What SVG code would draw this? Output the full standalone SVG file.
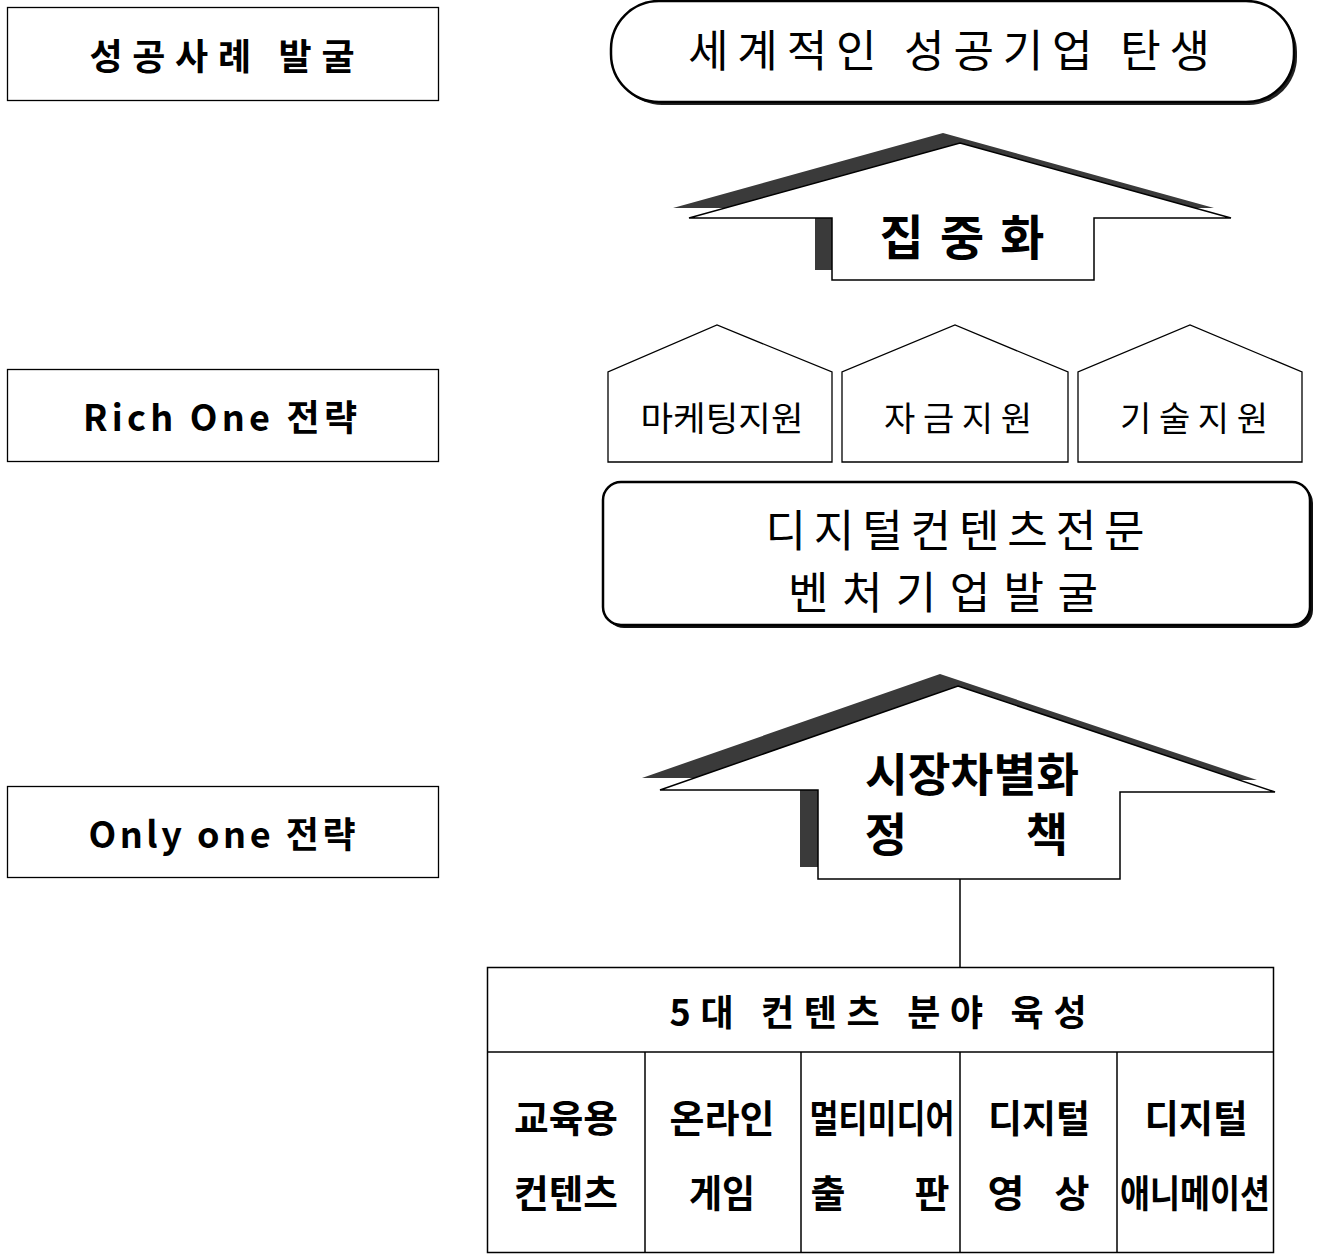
<svg xmlns="http://www.w3.org/2000/svg" width="1319" height="1257" viewBox="0 0 1319 1257">
<style>
text{font-family:"Noto Sans CJK KR","Noto Sans",sans-serif;fill:#000;dominant-baseline:central;text-anchor:middle}
.b{font-weight:bold}
.box{fill:#fff;stroke:#000;stroke-width:1.3}
.ln{stroke:#000;stroke-width:1.5;fill:none}
.shadow{fill:#3a3a3a}
</style>
<rect width="1319" height="1257" fill="#fff"/>
<g id="label-success">
<rect class="box" x="7.5" y="7.5" width="431" height="93"/>
<text class="b" x="222" y="54" font-size="36" textLength="265" lengthAdjust="spacing">성공사례 발굴</text>
</g>
<g id="label-richone">
<rect class="box" x="7.5" y="369.5" width="431" height="92"/>
<text class="b" x="220" y="415" font-size="36" textLength="274" lengthAdjust="spacing">Rich One 전략</text>
</g>
<g id="label-onlyone">
<rect class="box" x="7.5" y="786.5" width="431" height="91"/>
<text class="b" x="222" y="832" font-size="36" textLength="267" lengthAdjust="spacing">Only one 전략</text>
</g>
<g id="goal">
<rect x="614" y="4" width="683" height="101" rx="48" fill="#222"/>
<rect x="611" y="1" width="683" height="101" rx="48" fill="#fff" stroke="#000" stroke-width="2.5"/>
<text x="949" y="48" font-size="44" textLength="522" lengthAdjust="spacing">세계적인 성공기업 탄생</text>
</g>
<g id="arrow-focus">
<polygon class="shadow" points="943,133 1214,208 1077,208 1077,270 815,270 815,208 673,208"/>
<polygon fill="#fff" stroke="#000" stroke-width="1.5" points="960,143 1231,218 1094,218 1094,280 832,280 832,218 689,218"/>
<text class="b" x="962" y="234" font-size="48" textLength="165" lengthAdjust="spacing">집중화</text>
</g>
<g id="house-marketing">
<polygon class="box" points="608,462 608,372 717,325 832,372 832,462"/>
<text x="722" y="416" font-size="34" textLength="163" lengthAdjust="spacingAndGlyphs">마케팅지원</text>
</g>
<g id="house-fund">
<polygon class="box" points="842,462 842,372 955,325 1068,372 1068,462"/>
<text x="958" y="416" font-size="34" textLength="148" lengthAdjust="spacing">자금지원</text>
</g>
<g id="house-tech">
<polygon class="box" points="1078,462 1078,372 1190,325 1302,372 1302,462"/>
<text x="1194" y="416" font-size="34" textLength="148" lengthAdjust="spacing">기술지원</text>
</g>
<g id="venture">
<rect x="606" y="485" width="707" height="143" rx="18" fill="#111"/>
<rect x="603" y="482" width="707" height="143" rx="18" fill="#fff" stroke="#000" stroke-width="2.5"/>
<text x="955" y="528" font-size="44" textLength="379" lengthAdjust="spacing">디지털컨텐츠전문</text>
<text x="943" y="590" font-size="44" textLength="310" lengthAdjust="spacing">벤처기업발굴</text>
</g>
<g id="arrow-market">
<polygon class="shadow" points="940,674 1257,780 1102,780 1102,867 800,867 800,778 642,778"/>
<polygon fill="#fff" stroke="#000" stroke-width="1.5" points="958,686 1275,792 1120,792 1120,879 818,879 818,790 660,790"/>
<text class="b" x="972" y="771" font-size="46" textLength="214" lengthAdjust="spacingAndGlyphs">시장차별화</text>
<text class="b" x="886" y="831" font-size="46">정</text>
<text class="b" x="1047" y="831" font-size="46">책</text>
</g>
<g id="connectors">
<line class="ln" x1="960" y1="879" x2="960" y2="967"/>
</g>
<g id="table-five">
<rect class="ln" x="487.5" y="967.5" width="786" height="285"/>
<line class="ln" x1="487" y1="1052" x2="1274" y2="1052"/>
<line class="ln" x1="645" y1="1052" x2="645" y2="1253"/>
<line class="ln" x1="801" y1="1052" x2="801" y2="1253"/>
<line class="ln" x1="960" y1="1052" x2="960" y2="1253"/>
<line class="ln" x1="1117" y1="1052" x2="1117" y2="1253"/>
<text class="b" x="878" y="1010" font-size="36" textLength="417" lengthAdjust="spacing">5대 컨텐츠 분야 육성</text>
<text class="b" x="566" y="1115" font-size="38" textLength="104" lengthAdjust="spacingAndGlyphs">교육용</text>
<text class="b" x="566" y="1190" font-size="38" textLength="104" lengthAdjust="spacingAndGlyphs">컨텐츠</text>
<text class="b" x="722" y="1115" font-size="38" textLength="105" lengthAdjust="spacingAndGlyphs">온라인</text>
<text class="b" x="722" y="1190" font-size="38" textLength="66" lengthAdjust="spacingAndGlyphs">게임</text>
<text class="b" x="882" y="1115" font-size="38" textLength="145" lengthAdjust="spacingAndGlyphs">멀티미디어</text>
<text class="b" x="828" y="1190" font-size="38" textLength="35" lengthAdjust="spacingAndGlyphs">출</text>
<text class="b" x="932" y="1190" font-size="38" textLength="35" lengthAdjust="spacingAndGlyphs">판</text>
<text class="b" x="1039" y="1115" font-size="38" textLength="102" lengthAdjust="spacingAndGlyphs">디지털</text>
<text class="b" x="1006" y="1190" font-size="38" textLength="37" lengthAdjust="spacingAndGlyphs">영</text>
<text class="b" x="1072" y="1190" font-size="38" textLength="35" lengthAdjust="spacingAndGlyphs">상</text>
<text class="b" x="1196" y="1115" font-size="38" textLength="103" lengthAdjust="spacingAndGlyphs">디지털</text>
<text class="b" x="1195" y="1190" font-size="38" textLength="150" lengthAdjust="spacingAndGlyphs">애니메이션</text>
</g>
</svg>
